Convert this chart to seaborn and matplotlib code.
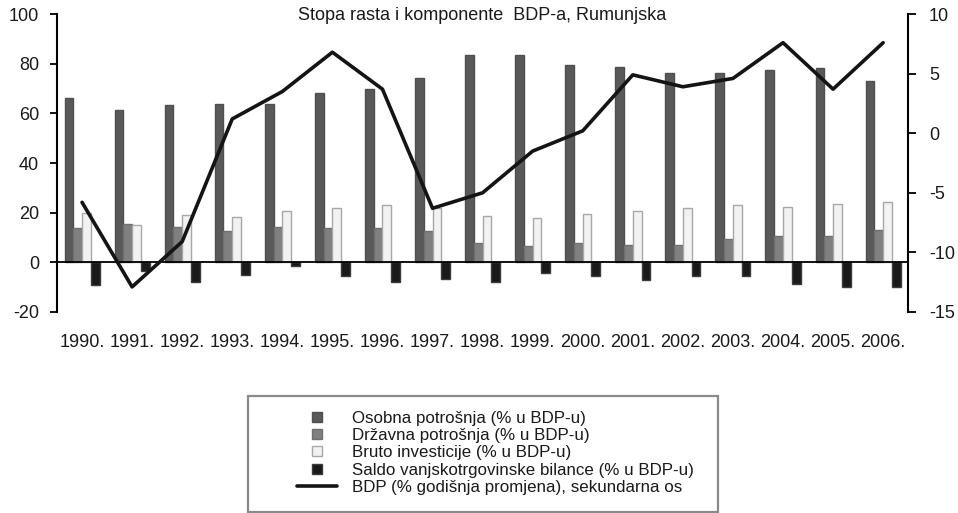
import matplotlib
matplotlib.use("Agg")
import matplotlib.pyplot as plt
import numpy as np
import pandas as pd
import seaborn as sns
from matplotlib.lines import Line2D
from matplotlib.patches import Rectangle
from matplotlib.ticker import FixedLocator

TITLE = "Stopa rasta i komponente  BDP-a, Rumunjska"
YEARS = [f"{y}." for y in range(1990, 2007)]

# lijeva os, % u BDP-u
OSOBNA = [66.3, 61.4, 63.2, 63.9, 63.9, 68.1, 69.9, 74.3, 83.7, 83.7, 79.4, 78.7, 76.3, 76.3, 77.5, 78.1, 73.2]
DRZAVNA = [13.8, 15.6, 14.4, 12.5, 14.4, 13.8, 13.8, 12.5, 7.6, 6.4, 7.6, 6.8, 6.8, 9.5, 10.7, 10.7, 13.2]
BRUTO = [20.0, 14.9, 19.2, 18.1, 20.5, 21.7, 23.1, 22.0, 18.6, 18.0, 19.3, 20.5, 21.7, 22.9, 22.4, 23.6, 24.3]
SALDO = [-9.1, -3.7, -8.0, -5.0, -1.6, -5.5, -8.0, -6.6, -8.0, -4.4, -5.5, -7.2, -5.5, -5.5, -8.6, -9.8, -9.8]

# desna os, % godisnja promjena
BDP = [-5.8, -12.9, -9.1, 1.2, 3.5, 6.8, 3.7, -6.3, -5.0, -1.5, 0.2, 4.9, 3.9, 4.6, 7.6, 3.7, 7.6]

SERIES = [
    "Osobna potrošnja (% u BDP-u)",
    "Državna potrošnja (% u BDP-u)",
    "Bruto investicije (% u BDP-u)",
    "Saldo vanjskotrgovinske bilance (% u BDP-u)",
]
LINE_LABEL = "BDP (% godišnja promjena), sekundarna os"
COLORS = ["#595959", "#808080", "#f2f2f2", "#1a1a1a"]
EDGES = ["#4f4f4f", "#707070", "#a8a8a8", "#3c3c3c"]


def build_frame() -> pd.DataFrame:
    values = [OSOBNA, DRZAVNA, BRUTO, SALDO]
    rows = []
    for name, vals in zip(SERIES, values):
        for year, v in zip(YEARS, vals):
            rows.append({"godina": year, "serija": name, "vrijednost": v})
    return pd.DataFrame(rows)


sns.set_style("white")
plt.rcParams.update({
    "font.family": ["Liberation Sans", "DejaVu Sans"],
    "font.size": 13,
    "axes.unicode_minus": False,
    "text.color": "#1a1a1a",
    "xtick.color": "black",
    "ytick.color": "black",
    "xtick.labelcolor": "#1a1a1a",
    "ytick.labelcolor": "#1a1a1a",
})

df = build_frame()

fig = plt.figure(figsize=(9.58, 5.13), dpi=100)
ax = fig.add_axes([0.0595, 0.392, 0.8885, 0.5805])

sns.barplot(
    data=df, x="godina", y="vrijednost", hue="serija", hue_order=SERIES,
    palette=dict(zip(SERIES, COLORS)), width=0.7, legend=False,
    linewidth=1, ax=ax,
)
for cont, edge in zip(ax.containers, EDGES):
    for bar in cont:
        bar.set_edgecolor(edge)

ax.set_xlim(-0.5, len(YEARS) - 0.5)
ax.set_ylim(-20, 100)
ax.set_yticks(range(-20, 101, 20))
ax.set_xlabel("")
ax.set_ylabel("")

ax.spines["top"].set_visible(False)
ax.spines["right"].set_visible(False)
ax.spines["bottom"].set_position(("data", 0))
ax.spines["bottom"].set_linewidth(1.3)
ax.spines["bottom"].set_color("black")
ax.spines["left"].set_linewidth(1.5)
ax.spines["left"].set_color("black")

ax.set_xticks(range(len(YEARS)))
ax.set_xticklabels(YEARS)
ax.xaxis.set_minor_locator(FixedLocator(np.arange(0.5, len(YEARS) - 1, 1)))
ax.tick_params(axis="x", which="major", length=0, pad=52, labelsize=13)
ax.tick_params(axis="x", which="minor", length=5, width=1.2, direction="out")
ax.tick_params(axis="y", length=5, width=1.3, direction="out", pad=8, labelsize=13, left=True)

ax2 = ax.twinx()
sns.lineplot(x=np.arange(len(YEARS)), y=BDP, ax=ax2, color="#141414", linewidth=2.6)
ax2.set_ylim(-15, 10)
ax2.set_yticks(range(-15, 11, 5))
ax2.set_xlim(-0.5, len(YEARS) - 0.5)
for side in ["top", "bottom", "left"]:
    ax2.spines[side].set_visible(False)
ax2.spines["right"].set_linewidth(1.5)
ax2.spines["right"].set_color("black")
ax2.tick_params(axis="y", length=6, width=1.3, direction="out", pad=9, labelsize=13, right=True)

ax.text(0.5, 0.995, TITLE, transform=ax.transAxes, ha="center", va="center", fontsize=13)

# legenda
fig.patches.append(Rectangle((248 / 958, 1 / 513), 470 / 958, 116 / 513,
                             transform=fig.transFigure, facecolor="white",
                             edgecolor="#8a8a8a", linewidth=1.6))
handles = [
    Line2D([], [], marker="s", linestyle="none", markersize=7,
           markerfacecolor=c, markeredgecolor=e)
    for c, e in zip(COLORS, EDGES)
]
handles.append(Line2D([], [], color="#141414", linewidth=2.6))
fig.legend(
    handles, SERIES + [LINE_LABEL], loc="upper left",
    bbox_to_anchor=(297 / 958, 1 - 411 / 513), frameon=False,
    fontsize=12.2, labelspacing=0.13, handlelength=2.35, handletextpad=0.9,
    borderpad=0, borderaxespad=0,
)

fig.savefig("out.png", dpi=100)
